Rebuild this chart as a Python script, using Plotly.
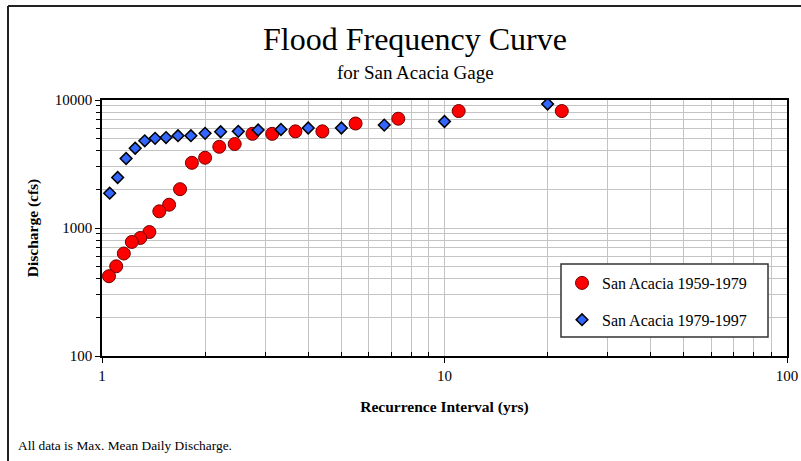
import plotly.graph_objects as go

# Series 1: San Acacia 1959-1979 (recurrence interval in yrs, discharge in cfs)
ri_1959 = [22.0, 11.0, 7.33, 5.5, 4.4, 3.67, 3.14, 2.75, 2.44, 2.2, 2.0,
           1.83, 1.69, 1.57, 1.47, 1.375, 1.294, 1.222, 1.158, 1.1, 1.048]
q_1959 = [8200, 8200, 7140, 6550, 5690, 5690, 5440, 5440, 4530, 4310, 3540,
          3230, 2010, 1520, 1350, 930, 836, 778, 632, 502, 420]

# Series 2: San Acacia 1979-1997
ri_1979 = [20.0, 10.0, 6.67, 5.0, 4.0, 3.33, 2.857, 2.5, 2.22, 2.0, 1.818,
           1.667, 1.538, 1.429, 1.333, 1.25, 1.176, 1.111, 1.053]
q_1979 = [9300, 6790, 6370, 6040, 6040, 5880, 5830, 5690, 5650, 5490, 5260,
          5260, 5090, 5020, 4800, 4200, 3490, 2480, 1870]

x_ticks = [1, 10, 100]
y_ticks = [100, 1000, 10000]
x_minor = [2, 3, 4, 5, 6, 7, 8, 9, 20, 30, 40, 50, 60, 70, 80, 90]
y_minor = [200, 300, 400, 500, 600, 700, 800, 900,
           2000, 3000, 4000, 5000, 6000, 7000, 8000, 9000]

SERIF = "Liberation Serif, Times New Roman, serif"
GRID = "#c4c4c4"

L, R, T, B = 102, 14, 100, 105
W, H = 801, 461
PW = W - L - R
PH = H - T - B


def px_x(v):
    return (v - L) / PW


def px_y(v):
    return (H - B - v) / PH


fig = go.Figure()
fig.add_trace(go.Scatter(
    x=ri_1959, y=q_1959, mode="markers", name="San Acacia 1959-1979",
    legendgroup="a",
    marker=dict(symbol="circle", size=13, color="#ff0000",
                line=dict(color="#700000", width=1)),
))
fig.add_trace(go.Scatter(
    x=ri_1979, y=q_1979, mode="markers", name="San Acacia 1979-1997",
    legendgroup="b",
    marker=dict(symbol="diamond", size=9, color="#3366ff",
                line=dict(color="#000000", width=1.5)),
))

fig.update_layout(
    width=W, height=H,
    autosize=False,
    margin=dict(l=L, r=R, t=T, b=B, autoexpand=False),
    paper_bgcolor="white", plot_bgcolor="white",
    font=dict(family=SERIF, color="black", size=15),
    showlegend=True,
    legend=dict(
        x=px_x(562), y=px_y(266), xanchor="left", yanchor="top",
        bgcolor="rgba(0,0,0,0)", borderwidth=0,
        font=dict(family=SERIF, size=16, color="black"),
        tracegroupgap=13,
    ),
    title=dict(
        text="Flood Frequency Curve",
        x=415 / W, xref="container", xanchor="center",
        y=0.915, yref="container", yanchor="middle",
        font=dict(family=SERIF, size=32, color="black"),
    ),
    annotations=[
        dict(text="for San Acacia Gage", xref="paper", yref="paper",
             x=px_x(415), y=px_y(72),
             xanchor="center", yanchor="middle", showarrow=False,
             font=dict(family=SERIF, size=19, color="black")),
        dict(text="All data is Max. Mean Daily Discharge.", xref="paper", yref="paper",
             x=px_x(16), y=px_y(445),
             xanchor="left", yanchor="middle", showarrow=False,
             font=dict(family=SERIF, size=13.4, color="black")),
    ],
    shapes=[
        # outer chart border (left and top edges visible)
        dict(type="line", xref="paper", yref="paper",
             x0=px_x(8), x1=px_x(8),
             y0=px_y(462), y1=px_y(6),
             line=dict(color="#222222", width=2)),
        dict(type="line", xref="paper", yref="paper",
             x0=px_x(8), x1=px_x(801),
             y0=px_y(6), y1=px_y(6),
             line=dict(color="#222222", width=2)),
        # legend box
        dict(type="rect", xref="paper", yref="paper", layer="above",
             x0=px_x(561), x1=px_x(768), y0=px_y(337), y1=px_y(264),
             fillcolor="white", line=dict(color="#333333", width=1.5)),
    ],
)

fig.update_xaxes(
    type="log", range=[0, 2], automargin=False,
    tickmode="array", tickvals=x_ticks, ticktext=[str(v) for v in x_ticks],
    ticks="outside", ticklen=5, tickcolor="black", tickwidth=1,
    showline=True, linecolor="black", linewidth=1.5, mirror=True,
    showgrid=True, gridcolor=GRID, gridwidth=1,
    tickfont=dict(family=SERIF, size=15, color="black"),
    title=dict(text="<b>Recurrence Interval (yrs)</b>", standoff=18,
               font=dict(family=SERIF, size=15.5, color="black")),
    minor=dict(tickmode="array", tickvals=x_minor, ticks="inside", ticklen=4,
               tickcolor="black", showgrid=True, gridcolor=GRID, gridwidth=1),
    zeroline=False,
)
fig.update_yaxes(
    type="log", range=[2, 4], automargin=False,
    tickmode="array", tickvals=y_ticks, ticktext=[str(v) for v in y_ticks],
    ticks="outside", ticklen=5, tickcolor="black", tickwidth=1,
    showline=True, linecolor="black", linewidth=1.5, mirror=True,
    showgrid=True, gridcolor=GRID, gridwidth=1,
    tickfont=dict(family=SERIF, size=15, color="black"),
    title=dict(text="<b>Discharge (cfs)</b>", standoff=12,
               font=dict(family=SERIF, size=15.5, color="black")),
    minor=dict(tickmode="array", tickvals=y_minor, ticks="outside", ticklen=4,
               tickcolor="black", showgrid=True, gridcolor=GRID, gridwidth=1),
    zeroline=False,
)

fig.write_html("out.html")
